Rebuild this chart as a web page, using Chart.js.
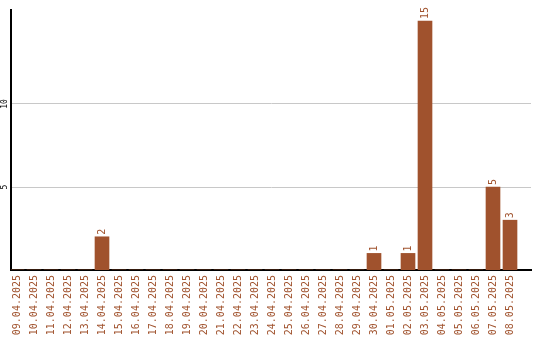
<!DOCTYPE html>
<html>
<head>
<meta charset="utf-8">
<script src="https://cdn.jsdelivr.net/npm/chart.js@4/dist/chart.umd.min.js"></script>
<style>
  html, body { margin: 0; padding: 0; background: #fff; }
</style>
</head>
<body>
<canvas id="chartJours" width="540" height="340"></canvas>
<script>
// Jours affichés sur l'axe horizontal
const jours = [
    '09.04.2025', '10.04.2025', '11.04.2025', '12.04.2025', '13.04.2025',
    '14.04.2025', '15.04.2025', '16.04.2025', '17.04.2025', '18.04.2025',
    '19.04.2025', '20.04.2025', '21.04.2025', '22.04.2025', '23.04.2025',
    '24.04.2025', '25.04.2025', '26.04.2025', '27.04.2025', '28.04.2025',
    '29.04.2025', '30.04.2025', '01.05.2025', '02.05.2025', '03.05.2025',
    '04.05.2025', '05.05.2025', '06.05.2025', '07.05.2025', '08.05.2025'
];
// Nombre par jour
const valeurs = [
    0, 0, 0, 0, 0,
    2, 0, 0, 0, 0,
    0, 0, 0, 0, 0,
    0, 0, 0, 0, 0,
    0, 1, 0, 1, 15,
    0, 0, 0, 5, 3
];
// Graduations de l'axe vertical
const graduationsY = [5, 10];

const couleur = '#a0522d';
const police = "'DejaVu Sans Mono', monospace";

// Texte vertical (lu de bas en haut)
function texteVertical(ctx, txt, x, y) {
    ctx.save();
    ctx.translate(x, y);
    ctx.rotate(-Math.PI / 2);
    ctx.fillText(txt, 0, 0);
    ctx.restore();
}

// Valeurs au-dessus des barres + graduations verticales
const etiquettes = {
    id: 'etiquettes',
    afterDatasetsDraw(chart) {
        const ctx = chart.ctx;
        const meta = chart.getDatasetMeta(0);
        ctx.save();
        ctx.fillStyle = couleur;
        ctx.font = '10px ' + police;
        ctx.textAlign = 'left';
        ctx.textBaseline = 'middle';
        meta.data.forEach((bar, i) => {
            if (valeurs[i]) texteVertical(ctx, String(valeurs[i]), bar.x, bar.y - 2);
        });

        const y = chart.scales.y;
        ctx.fillStyle = '#000';
        ctx.font = '8px ' + police;
        ctx.textAlign = 'center';
        graduationsY.forEach(v => {
            texteVertical(ctx, String(v), 4.5, y.getPixelForValue(v));
        });
        ctx.restore();
    }
};

new Chart(document.getElementById('chartJours'), {
    type: 'bar',
    data: {
        datasets: [{
            data: valeurs.map((v, i) => ({ x: i, y: v })),
            backgroundColor: couleur,
            barThickness: 14
        }]
    },
    options: {
        responsive: false,
        animation: false,
        layout: { padding: { top: 10, right: 9, left: 0, bottom: 0 } },
        plugins: {
            legend: { display: false },
            tooltip: { enabled: false }
        },
        scales: {
            x: {
                type: 'linear',
                offset: false,
                min: -6 / 17,
                max: 520 / 17 - 6 / 17,
                afterBuildTicks: (axis) => { axis.ticks = jours.map((_, i) => ({ value: i })); },
                afterFit: (axis) => {
                    axis.height = 70;
                    axis.paddingLeft = 0;
                    axis.paddingRight = 0;
                },
                grid: { drawOnChartArea: false, drawTicks: false },
                border: { color: '#000', width: 2 },
                ticks: {
                    autoSkip: false,
                    minRotation: 90,
                    maxRotation: 90,
                    padding: 5,
                    color: couleur,
                    font: { family: police, size: 10 },
                    callback: (v) => jours[v]
                }
            },
            y: {
                min: 0,
                max: 260 / 16.6,
                afterBuildTicks: (axis) => { axis.ticks = graduationsY.map(v => ({ value: v })); },
                afterFit: (axis) => {
                    axis.width = 11;
                    axis.paddingTop = 0;
                    axis.paddingBottom = 0;
                },
                grid: { color: '#c8c8c8', lineWidth: 1, drawTicks: false },
                border: { color: '#000', width: 2 },
                ticks: { display: false }
            }
        }
    },
    plugins: [etiquettes]
});
</script>
</body>
</html>
